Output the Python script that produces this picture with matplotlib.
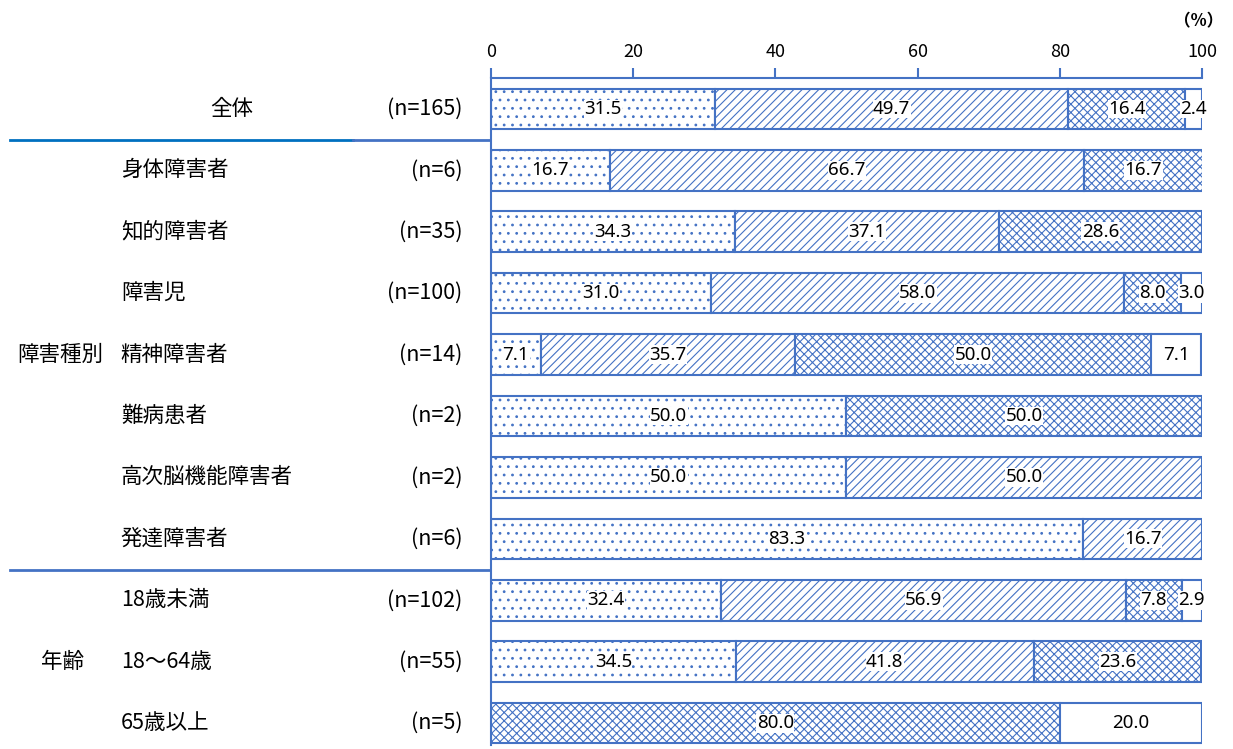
import matplotlib.pyplot as plt
from matplotlib.transforms import blended_transform_factory

plt.rcParams["font.family"] = ["Noto Sans CJK JP", "DejaVu Sans"]
plt.rcParams["hatch.linewidth"] = 0.8

categories = ["全体", "身体障害者", "知的障害者", "障害児", "精神障害者", "難病患者",
              "高次脳機能障害者", "発達障害者", "18歳未満", "18～64歳", "65歳以上"]
n_labels = ["(n=165)", "(n=6)", "(n=35)", "(n=100)", "(n=14)", "(n=2)",
            "(n=2)", "(n=6)", "(n=102)", "(n=55)", "(n=5)"]
dots = [31.5, 16.7, 34.3, 31.0, 7.1, 50.0, 50.0, 83.3, 32.4, 34.5, 0.0]
diag = [49.7, 66.7, 37.1, 58.0, 35.7, 0.0, 50.0, 16.7, 56.9, 41.8, 0.0]
cross = [16.4, 16.7, 28.6, 8.0, 50.0, 50.0, 0.0, 0.0, 7.8, 23.6, 80.0]
blank = [2.4, 0.0, 0.0, 3.0, 7.1, 0.0, 0.0, 0.0, 2.9, 0.0, 20.0]
ticks = [0, 20, 40, 60, 80, 100]

blue = "#4472C4"
fig = plt.figure(figsize=(12.33, 7.49), dpi=100)
ax = fig.add_axes([0.398, 0.005, 0.577, 0.891])

series = [(dots, ".."), (diag, "////"), (cross, "xxxx"), (blank, "")]
left = [0.0] * len(categories)
for vals, hatch in series:
    for i, v in enumerate(vals):
        if v > 0:
            ax.barh(i, v, left=left[i], height=0.66, color="white",
                    edgecolor=blue, hatch=hatch, linewidth=1.5, zorder=2)
            ax.text(left[i] + v / 2, i, f"{v:.1f}", ha="center", va="center",
                    fontsize=13.5, family="Noto Sans", zorder=4,
                    bbox=dict(facecolor="white", edgecolor="none", pad=0.3))
        left[i] += v

ax.set_xlim(0, 100)
ax.set_ylim(10.36, -0.505)
ax.xaxis.tick_top()
ax.set_xticks(ticks)
ax.tick_params(axis="x", direction="out", length=7, width=1.5, color=blue,
               labelsize=13, pad=5)
ax.set_yticks([])
for s in ["right", "bottom"]:
    ax.spines[s].set_visible(False)
for s in ["top", "left"]:
    ax.spines[s].set_color(blue)
    ax.spines[s].set_linewidth(1.5)

# row labels: names left, sample sizes right-aligned next to the bars
tr = blended_transform_factory(fig.transFigure, ax.transData)
for i, (c, n) in enumerate(zip(categories, n_labels)):
    if i == 0:
        ax.text(0.188, i, c, transform=tr, ha="center", va="center", fontsize=15.5)
    else:
        ax.text(0.098, i, c, transform=tr, ha="left", va="center", fontsize=15.5)
    ax.text(0.375, i, n, transform=tr, ha="right", va="center", fontsize=15.5)

ax.text(0.014, 4, "障害種別", transform=tr, ha="left", va="center", fontsize=15.5)
ax.text(0.051, 9, "年齢", transform=tr, ha="center", va="center", fontsize=15.5)

ax.plot([0.008, 0.286], [0.5, 0.5], transform=tr, color="#0070C0", lw=2, clip_on=False)
ax.plot([0.286, 0.397], [0.5, 0.5], transform=tr, color=blue, lw=2, clip_on=False)
ax.plot([0.008, 0.397], [7.5, 7.5], transform=tr, color=blue, lw=2, clip_on=False)

fig.text(0.972, 0.972, "（%）", ha="center", va="center", fontsize=12, fontweight="bold")

fig.savefig("out.png", dpi=100)
